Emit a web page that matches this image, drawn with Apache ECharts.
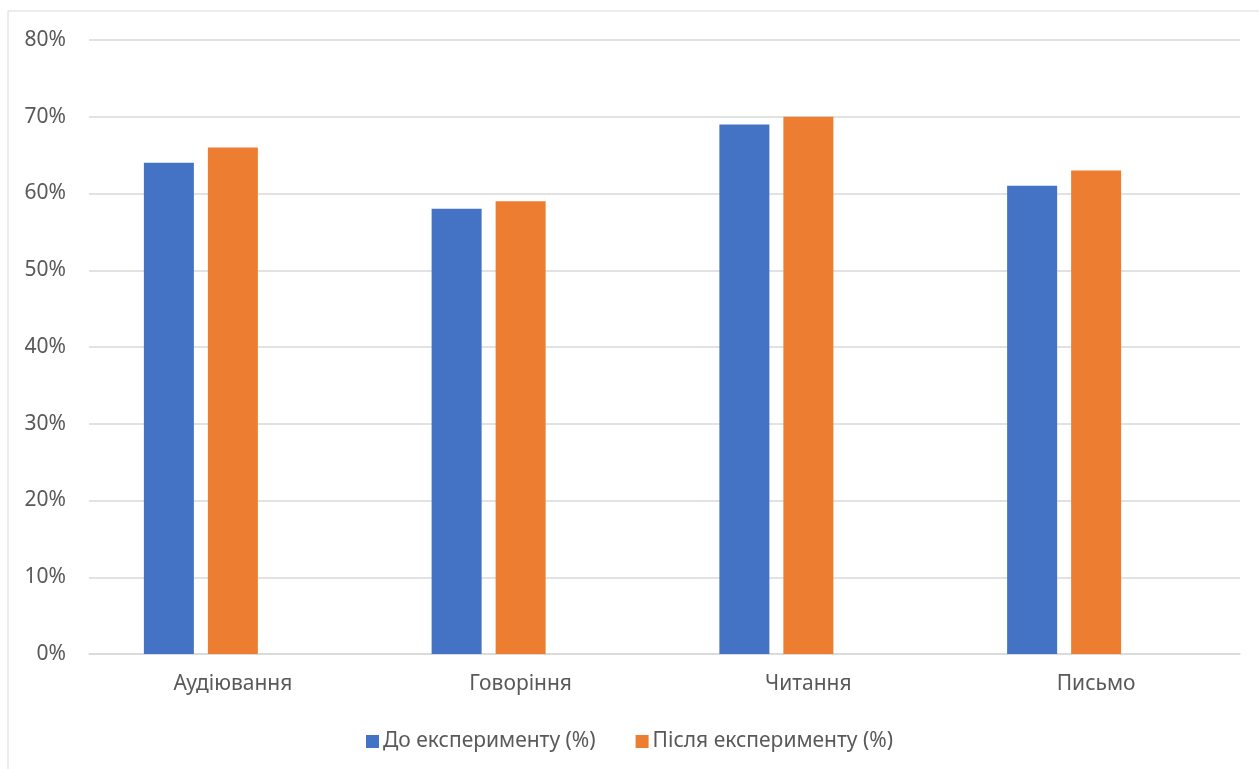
<!DOCTYPE html>
<html>
<head>
<meta charset="utf-8">
<script src="https://cdn.jsdelivr.net/npm/echarts@6/dist/echarts.min.js"></script>
<style>
html,body{margin:0;padding:0;background:#fff;}
#main{width:1259px;height:769px;}
</style>
</head>
<body>
<div id="main"></div>
<script>
const categories = ['Аудіювання', 'Говоріння', 'Читання', 'Письмо'];
const seriesNames = ['До експерименту (%)', 'Після експерименту (%)'];
const beforeValues = [64, 58, 69, 61];
const afterValues = [66, 59, 70, 63];
const emptyValues = ['-', '-', '-', '-'];
const yTicks = [0, 10, 20, 30, 40, 50, 60, 70, 80];

const chart = echarts.init(document.getElementById('main'));
const font = '"Noto Sans", "DejaVu Sans", sans-serif';
chart.setOption({
  animation: false,
  backgroundColor: '#ffffff',
  textStyle: { fontFamily: font },
  graphic: [
    { type: 'line', shape: { x1: 8, y1: 11, x2: 1259, y2: 11 }, style: { stroke: '#d9d9d9', lineWidth: 1 } },
    { type: 'line', shape: { x1: 8, y1: 11, x2: 8, y2: 769 }, style: { stroke: '#d9d9d9', lineWidth: 1 } }
  ],
  grid: { left: 89, right: 19, top: 40, bottom: 115, containLabel: false },
  legend: {
    data: seriesNames,
    top: 726,
    left: 'center',
    itemWidth: 13,
    itemHeight: 13,
    itemGap: 40,
    icon: 'rect',
    textStyle: { color: '#595959', fontSize: 21, fontFamily: font, padding: [0, 0, 0, -1] }
  },
  xAxis: {
    type: 'category',
    data: categories,
    axisTick: { show: false },
    axisLine: { show: true, lineStyle: { color: '#d9d9d9', width: 1.5 } },
    axisLabel: { color: '#595959', fontSize: 21, margin: 20, fontFamily: font }
  },
  yAxis: {
    type: 'value',
    min: yTicks[0],
    max: yTicks[yTicks.length - 1],
    interval: 10,
    axisLine: { show: false },
    axisTick: { show: false },
    splitLine: { lineStyle: { color: '#d9d9d9', width: 1.5 } },
    axisLabel: { color: '#595959', fontSize: 21, margin: 23, formatter: '{value}%', fontFamily: font }
  },
  series: [
    { name: seriesNames[0], type: 'bar', data: beforeValues, barWidth: 50, barGap: '28%', itemStyle: { color: '#4472c4' } },
    { name: seriesNames[1], type: 'bar', data: afterValues, barWidth: 50, barGap: '28%', itemStyle: { color: '#ed7d31' } },
    { name: 'empty', type: 'bar', data: emptyValues, barWidth: 50, barGap: '28%', itemStyle: { color: 'transparent' } }
  ]
});
</script>
</body>
</html>
